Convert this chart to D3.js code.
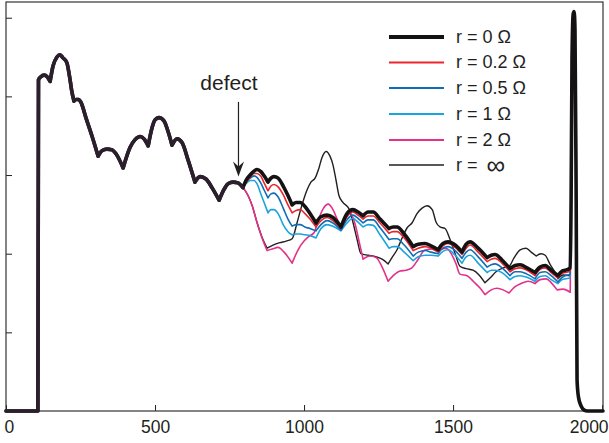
<!DOCTYPE html>
<html>
<head>
<meta charset="utf-8">
<script src="https://cdn.jsdelivr.net/npm/d3@7"></script>
<style>
  body { margin: 0; background: #fff; }
  svg text { font-family: "Liberation Sans", Arial, Helvetica, sans-serif; fill: #231f20; }
</style>
</head>
<body>
<div class="chart"></div>
<script>
// Data (x: distance, y: signal level, unlabelled axis)
// common trace up to the defect
var prefixX = [0,107,109,117,128,138,148,158,171,181,191,204,215,221,228,235,243,252,268,289,309,322,339,356,369,393,416,433,450,463,477,490,500,513,530,544,557,574,591,611,634,651,671,691,715,732,745,762,778];
var prefixY = [0,0,4.21,4.25,4.27,4.25,4.19,4.39,4.50,4.53,4.49,4.43,4.21,4.06,3.94,3.96,3.96,3.92,3.73,3.49,3.24,3.31,3.33,3.32,3.27,3.09,3.35,3.45,3.49,3.46,3.37,3.60,3.70,3.73,3.69,3.55,3.38,3.46,3.41,3.19,2.91,2.98,2.95,2.84,2.68,2.82,2.89,2.91,2.90];

// end reflection, shared by all traces
var spikeX = [1896,1899,1903,1906,1909,1913,1916,1921,1930,1940,1950,2003];
var spikeY = [2.68,4.47,5.05,5.08,4.85,2.68,0.39,0.17,0.06,0.01,0,0];

// after the defect: r = 0, 0.2, 0.5, 1 share one x grid
var gridX = [795,805,819,832,842,856,866,879,889,899,913,930,946,960,973,987,1003,1020,1040,1057,1077,1097,1124,1144,1164,1181,1198,1215,1232,1255,1285,1299,1312,1336,1366,1383,1406,1426,1450,1466,1483,1507,1530,1544,1557,1584,1614,1628,1641,1664,1691,1708,1725,1748,1775,1792,1809,1829,1852,1866,1876,1893];
var levelR0 = [2.84,2.93,3.00,3.05,3.07,3.04,2.99,2.91,2.96,2.98,2.96,2.86,2.74,2.62,2.65,2.65,2.60,2.51,2.39,2.47,2.49,2.46,2.34,2.51,2.56,2.53,2.48,2.53,2.53,2.44,2.32,2.34,2.34,2.25,2.09,2.12,2.13,2.10,2.05,2.13,2.15,2.11,2.02,2.12,2.15,2.07,1.95,1.98,1.99,1.92,1.81,1.85,1.86,1.82,1.76,1.83,1.85,1.79,1.72,1.78,1.79,1.82];
var levelR02 = [2.84,2.90,2.97,3.02,3.02,2.98,2.90,2.80,2.86,2.88,2.85,2.75,2.62,2.52,2.55,2.56,2.51,2.44,2.34,2.42,2.46,2.42,2.32,2.47,2.53,2.49,2.44,2.48,2.48,2.39,2.26,2.28,2.28,2.20,2.04,2.07,2.09,2.07,2.02,2.10,2.13,2.08,1.99,2.07,2.11,2.02,1.90,1.93,1.94,1.88,1.77,1.81,1.82,1.79,1.72,1.80,1.82,1.76,1.69,1.75,1.76,1.78];
var levelR05 = [2.84,2.91,2.96,2.99,2.97,2.89,2.81,2.71,2.76,2.77,2.72,2.58,2.44,2.35,2.37,2.37,2.34,2.32,2.29,2.37,2.42,2.39,2.30,2.43,2.49,2.45,2.39,2.43,2.43,2.33,2.18,2.19,2.19,2.11,1.97,2.02,2.04,2.02,2.00,2.07,2.09,2.04,1.94,2.02,2.05,1.96,1.83,1.86,1.87,1.82,1.72,1.77,1.77,1.74,1.68,1.76,1.77,1.72,1.64,1.70,1.72,1.74];
var levelR1 = [2.84,2.89,2.93,2.93,2.89,2.75,2.65,2.52,2.56,2.56,2.51,2.37,2.28,2.24,2.25,2.25,2.24,2.23,2.20,2.32,2.37,2.35,2.29,2.39,2.45,2.40,2.34,2.37,2.36,2.24,2.07,2.09,2.09,2.02,1.91,1.96,1.98,1.98,1.97,2.03,2.05,1.98,1.88,1.96,1.98,1.88,1.76,1.79,1.79,1.76,1.67,1.71,1.72,1.70,1.65,1.71,1.72,1.67,1.62,1.67,1.68,1.69];

// r = 2
var pinkX = [795,812,826,842,859,876,893,913,933,960,980,1000,1020,1034,1047,1064,1081,1097,1111,1124,1138,1154,1171,1185,1198,1221,1242,1262,1282,1302,1322,1342,1362,1383,1403,1426,1450,1477,1497,1510,1523,1547,1570,1591,1607,1628,1648,1668,1688,1708,1728,1752,1775,1792,1812,1832,1849,1869,1893];
var levelR2 = [2.84,2.74,2.61,2.40,2.20,2.04,2.06,2.08,2.02,1.88,2.05,2.16,2.23,2.27,2.42,2.57,2.63,2.56,2.44,2.33,2.46,2.52,2.38,2.15,1.93,1.97,1.95,1.83,1.65,1.73,1.78,1.79,1.82,1.93,2.04,2.06,2.04,2.07,1.98,1.87,1.74,1.72,1.64,1.56,1.48,1.54,1.56,1.54,1.50,1.58,1.62,1.65,1.62,1.67,1.68,1.62,1.54,1.55,1.51];

// r = infinity (open)
var openX = [795,812,826,842,859,876,896,919,940,960,977,993,1010,1023,1037,1050,1060,1074,1087,1097,1107,1117,1131,1151,1164,1178,1191,1215,1242,1262,1282,1295,1312,1329,1346,1362,1379,1396,1413,1430,1443,1456,1473,1490,1507,1523,1544,1567,1587,1607,1624,1644,1668,1688,1705,1725,1745,1762,1779,1795,1809,1826,1842,1852,1869,1893];
var levelOpen = [2.84,2.74,2.61,2.40,2.21,2.07,2.11,2.14,2.16,2.19,2.40,2.62,2.81,2.91,2.96,3.09,3.22,3.30,3.24,3.13,2.94,2.74,2.65,2.57,2.40,2.18,2.00,1.98,1.96,1.93,1.87,1.95,2.05,2.20,2.33,2.39,2.51,2.58,2.61,2.56,2.40,2.34,2.32,2.18,2.00,1.84,1.81,1.79,1.73,1.63,1.69,1.77,1.82,1.84,1.95,2.05,2.07,2.02,1.97,2.00,1.98,1.86,1.76,1.68,1.73,1.72];

var xTicks = [0, 500, 1000, 1500, 2000];
var yTicks = [0, 1, 2, 3, 4, 5];
var seriesLabels = ["r = 0 \u03A9", "r = 0.2 \u03A9", "r = 0.5 \u03A9", "r = 1 \u03A9", "r = 2 \u03A9", "r = "];

var svgWidth = 609;
var svgHeight = 443;
var margin = {top: 2, right: 6, bottom: 32, left: 6};
var width = svgWidth - margin.left - margin.right;
var height = svgHeight - margin.top - margin.bottom;

var svg = d3.select(".chart")
  .append("svg")
  .attr("width", svgWidth)
  .attr("height", svgHeight);

var chartGroup = svg.append("g")
  .attr("transform", `translate(${margin.left}, ${margin.top})`);

var xScale = d3.scaleLinear().domain([0, 2003]).range([0, width]);
var yScale = d3.scaleLinear().domain([0, 5.2]).range([height, 0]);

// axes: ticks point inward, no labels on y
var bottomAxis = d3.axisBottom(xScale)
  .tickValues(xTicks)
  .tickFormat(d3.format("d"))
  .tickSizeInner(-6)
  .tickSizeOuter(0)
  .tickPadding(10);
var leftAxis = d3.axisLeft(yScale)
  .tickValues(yTicks)
  .tickSizeInner(-6)
  .tickSizeOuter(0)
  .tickFormat("");

var xg = chartGroup.append("g")
  .attr("transform", `translate(0, ${height})`)
  .call(bottomAxis);
xg.select(".domain").remove();
xg.selectAll("line").attr("stroke", "#231f20");
xg.selectAll("text")
  .attr("font-size", "17.5px")
  .attr("font-family", null)
  .attr("fill", "#231f20");
xg.selectAll(".tick").filter(d => d === 0).select("text")
  .attr("text-anchor", "start").attr("x", -2);
xg.selectAll(".tick").filter(d => d === 2000).select("text")
  .attr("text-anchor", "end").attr("x", 6);

var yg = chartGroup.append("g").call(leftAxis);
yg.select(".domain").remove();
yg.selectAll("line").attr("stroke", "#231f20");

chartGroup.append("rect")
  .attr("x", 0).attr("y", 0)
  .attr("width", width).attr("height", height)
  .attr("fill", "none")
  .attr("stroke", "#333")
  .attr("stroke-width", 1.2);

// traces
function zip(xs, ys) { return xs.map((v, i) => [v, ys[i]]); }
var prefix = zip(prefixX, prefixY);
var spike = zip(spikeX, spikeY);

var series = [
  {label: seriesLabels[0], pts: zip(gridX, levelR0), color: "#141213", w: 3.6, legendW: 4},
  {label: seriesLabels[1], pts: zip(gridX, levelR02), color: "#e9262e", w: 1.6, legendW: 1.8},
  {label: seriesLabels[2], pts: zip(gridX, levelR05), color: "#0f6db5", w: 1.6, legendW: 1.8},
  {label: seriesLabels[3], pts: zip(gridX, levelR1), color: "#1ba3df", w: 1.6, legendW: 1.8},
  {label: seriesLabels[4], pts: zip(pinkX, levelR2), color: "#e5308a", w: 1.6, legendW: 1.8},
  {label: seriesLabels[5], pts: zip(openX, levelOpen), color: "#231f20", w: 1.4, legendW: 1.6}
];

var line = d3.line()
  .x(d => xScale(d[0]))
  .y(d => yScale(d[1]))
  .curve(d3.curveMonotoneX);

// smooth humps, sharp cusps: break the curve at every local minimum
function scallop(pts) {
  var pieces = [], start = 0;
  for (var i = 1; i < pts.length - 1; i++) {
    if (pts[i][1] < pts[i - 1][1] && pts[i][1] < pts[i + 1][1]) {
      pieces.push(pts.slice(start, i + 1));
      start = i;
    }
  }
  pieces.push(pts.slice(start));
  return pieces.map(p => line(p)).join("");
}

chartGroup.selectAll(".trace")
  .data(series.slice().reverse())
  .enter()
  .append("path")
  .attr("class", "trace")
  .attr("fill", "none")
  .attr("stroke", d => d.color)
  .attr("stroke-width", d => d.w)
  .attr("stroke-linejoin", "round")
  .attr("stroke-linecap", "round")
  .attr("d", d => scallop(prefix.concat(d.pts, spike)));

// overlapped part before the defect
chartGroup.append("path")
  .attr("fill", "none")
  .attr("stroke", "#2c1f2d")
  .attr("stroke-width", 3.6)
  .attr("stroke-linejoin", "round")
  .attr("stroke-linecap", "round")
  .attr("d", scallop(prefix.concat([[795, 2.84]])));

// defect annotation
var ax = xScale(780), ay0 = yScale(3.93), ay1 = yScale(2.98);
chartGroup.append("text")
  .attr("x", xScale(748))
  .attr("y", yScale(4.08))
  .attr("text-anchor", "middle")
  .attr("font-size", "21px")
  .text("defect");
chartGroup.append("line")
  .attr("x1", ax).attr("x2", ax)
  .attr("y1", ay0).attr("y2", ay1 - 9)
  .attr("stroke", "#231f20")
  .attr("stroke-width", 1.2);
chartGroup.append("path")
  .attr("d", `M${ax},${ay1} L${ax - 5.5},${ay1 - 15} L${ax},${ay1 - 10} L${ax + 5.5},${ay1 - 15} Z`)
  .attr("fill", "#231f20");

// legend
var legend = svg.append("g").attr("transform", "translate(389, 37)");
var rows = legend.selectAll("g")
  .data(series)
  .enter()
  .append("g")
  .attr("transform", (d, i) => `translate(0, ${[0, 25.5, 51, 77, 103, 128][i]})`);
rows.append("line")
  .attr("x1", 0).attr("x2", 55)
  .attr("stroke", d => d.color)
  .attr("stroke-width", d => d.legendW);
var labels = rows.append("text")
  .attr("x", 67)
  .attr("y", 5.5)
  .attr("font-size", "18px")
  .text(d => d.label);
labels.filter((d, i) => i === 5)
  .append("tspan")
  .attr("dx", 4)
  .attr("font-size", "26px")
  .attr("dy", 3)
  .text("\u221E");
</script>
</body>
</html>
